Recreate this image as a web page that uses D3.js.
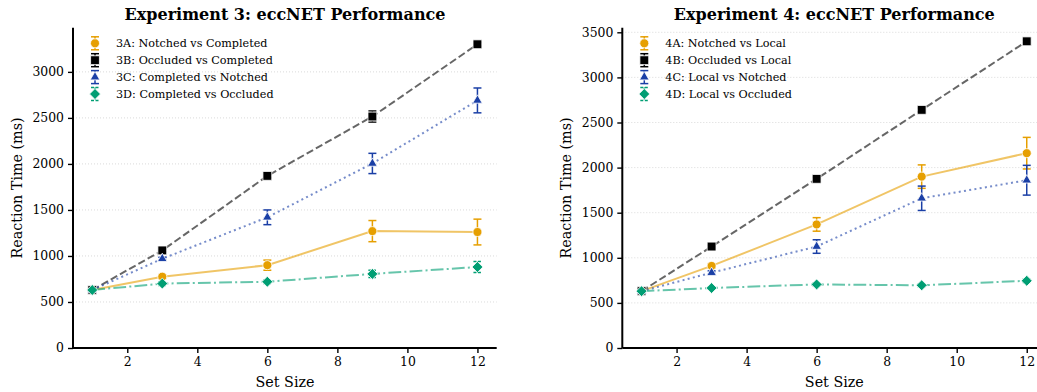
<!DOCTYPE html>
<html>
<head>
<meta charset="utf-8">
<script src="https://cdn.jsdelivr.net/npm/d3@7"></script>
<style>
  body { margin: 0; background: #fff; }
  svg { font-family: "DejaVu Serif", serif; }
</style>
</head>
<body>
<svg id="chart" width="1037" height="392"></svg>
<script>
// values
const setSizes = [1, 3, 6, 9, 12];
const xTicks = [2, 4, 6, 8, 10, 12];

const exp3A = [630, 775, 900, 1270, 1260];
const err3A = [10, 20, 55, 115, 140];
const exp3B = [630, 1060, 1870, 2515, 3300];
const err3B = [10, 15, 20, 60, 20];
const exp3C = [630, 970, 1420, 2005, 2690];
const err3C = [10, 15, 80, 110, 135];
const exp3D = [630, 700, 720, 805, 880];
const err3D = [10, 20, 20, 40, 60];

const exp4A = [630, 910, 1370, 1900, 2160];
const err4A = [10, 25, 75, 130, 175];
const exp4B = [630, 1125, 1875, 2640, 3400];
const err4B = [10, 15, 20, 20, 15];
const exp4C = [630, 835, 1125, 1660, 1860];
const err4C = [10, 20, 75, 135, 165];
const exp4D = [630, 665, 705, 695, 745];
const err4D = [10, 15, 15, 15, 20];

const labels3 = ['3A: Notched vs Completed', '3B: Occluded vs Completed',
  '3C: Completed vs Notched', '3D: Completed vs Occluded'];
const labels4 = ['4A: Notched vs Local', '4B: Occluded vs Local',
  '4C: Local vs Notched', '4D: Local vs Occluded'];

const yTicks3 = [0, 500, 1000, 1500, 2000, 2500, 3000];
const yTicks4 = [0, 500, 1000, 1500, 2000, 2500, 3000, 3500];

// style of each series: color, marker, line dash (diamond = square turned 45deg)
const styles = [
  { color: '#E69F00', marker: d3.symbolCircle, size: 64, rot: 0, dash: null },
  { color: '#000000', marker: d3.symbolSquare, size: 78, rot: 0, dash: '7.4,3.2' },
  { color: '#1A3FA6', marker: d3.symbolTriangle, size: 40, rot: 0, dash: '2,3.3' },
  { color: '#009E73', marker: d3.symbolSquare, size: 60, rot: 45, dash: '12.8,3.2,2,3.2' },
];

const svg = d3.select('#chart');

function drawPanel(opts) {
  const x = d3.scaleLinear().domain([0.45, 12.55]).range([opts.left, opts.left + 423.7]);
  const y = d3.scaleLinear().domain([0, opts.ymax]).range([348, 27.7]);
  const g = svg.append('g');

  // dotted horizontal grid
  g.append('g').selectAll('line')
    .data(opts.yTicks.filter(d => d > 0))
    .join('line')
    .attr('x1', x.range()[0]).attr('x2', x.range()[1])
    .attr('y1', d => y(d)).attr('y2', d => y(d))
    .attr('stroke', '#d0d0d0').attr('stroke-width', 0.8)
    .attr('stroke-dasharray', '1,2');

  // axes
  const xAxis = g.append('g').attr('transform', 'translate(0,348)')
    .call(d3.axisBottom(x).tickValues(xTicks).tickFormat(d3.format('d'))
      .tickSize(5).tickPadding(4));
  const yAxis = g.append('g').attr('transform', `translate(${opts.left},0)`)
    .call(d3.axisLeft(y).tickValues(opts.yTicks).tickFormat(d3.format('d'))
      .tickSize(5).tickPadding(4));
  [xAxis, yAxis].forEach((ax) => {
    ax.select('.domain').attr('stroke', '#000').attr('stroke-width', 2);
    ax.selectAll('.tick line').attr('stroke', '#000').attr('stroke-width', 1.4);
    ax.selectAll('.tick text').attr('fill', '#000')
      .style('font-size', '12.4px').style('font-family', '"DejaVu Serif", serif');
  });
  xAxis.select('.domain').attr('d', `M${x.range()[0]},0H${x.range()[1]}`);
  yAxis.select('.domain').attr('d', `M0,${y.range()[0]}V${y.range()[1]}`);

  // series
  const line = d3.line().x((d, i) => x(setSizes[i])).y(d => y(d));
  opts.series.forEach((vals, k) => {
    const st = styles[k];
    const errs = opts.errors[k];
    const sg = g.append('g');
    sg.append('path').attr('d', line(vals))
      .attr('fill', 'none').attr('stroke', st.color)
      .attr('stroke-opacity', 0.6).attr('stroke-width', 2)
      .attr('stroke-dasharray', st.dash);
    const eb = sg.append('g').attr('stroke', st.color).attr('stroke-width', 1.5)
      .attr('stroke-dasharray', k === 3 ? '3,1.5' : null);
    vals.forEach((v, i) => {
      const cx = x(setSizes[i]);
      const lo = y(v - errs[i]);
      const hi = y(v + errs[i]);
      eb.append('line').attr('x1', cx).attr('x2', cx).attr('y1', lo).attr('y2', hi);
      eb.append('line').attr('x1', cx - 4).attr('x2', cx + 4).attr('y1', lo).attr('y2', lo);
      eb.append('line').attr('x1', cx - 4).attr('x2', cx + 4).attr('y1', hi).attr('y2', hi);
    });
    sg.selectAll('path.mk').data(vals).join('path')
      .attr('class', 'mk')
      .attr('d', d3.symbol().type(st.marker).size(st.size))
      .attr('transform', (d, i) => `translate(${x(setSizes[i])},${y(d)}) rotate(${st.rot})`)
      .attr('fill', st.color).attr('stroke', '#fff').attr('stroke-width', 0.8);
  });

  // legend
  const lx = opts.left + 22;
  opts.labels.forEach((lab, k) => {
    const st = styles[k];
    const ly = 43.3 + k * 16.9;
    const lg = g.append('g');
    const eb = lg.append('g').attr('stroke', st.color).attr('stroke-width', 1.5)
      .attr('stroke-dasharray', k === 3 ? '3,1.5' : null);
    eb.append('line').attr('x1', lx).attr('x2', lx).attr('y1', ly - 6.5).attr('y2', ly + 6.5);
    eb.append('line').attr('x1', lx - 4).attr('x2', lx + 4).attr('y1', ly - 6.5).attr('y2', ly - 6.5);
    eb.append('line').attr('x1', lx - 4).attr('x2', lx + 4).attr('y1', ly + 6.5).attr('y2', ly + 6.5);
    lg.append('path').attr('d', d3.symbol().type(st.marker).size(st.size))
      .attr('transform', `translate(${lx},${ly}) rotate(${st.rot})`)
      .attr('fill', st.color).attr('stroke', '#fff').attr('stroke-width', 0.8);
    lg.append('text').attr('x', lx + 21).attr('y', ly).attr('dy', '0.35em')
      .style('font-size', '11.2px').text(lab);
  });

  // titles
  const cx = opts.left + 212;
  g.append('text').attr('x', cx).attr('y', 20).attr('text-anchor', 'middle')
    .style('font-size', '16px').style('font-weight', 'bold').text(opts.title);
  g.append('text').attr('x', cx).attr('y', 387).attr('text-anchor', 'middle')
    .style('font-size', '14.3px').text('Set Size');
  g.append('text').attr('transform', `translate(${opts.ylabelX},188) rotate(-90)`)
    .attr('text-anchor', 'middle').attr('dy', '0.35em')
    .style('font-size', '14.3px').text('Reaction Time (ms)');
}

drawPanel({
  left: 73, ymax: 3480, yTicks: yTicks3, ylabelX: 17,
  series: [exp3A, exp3B, exp3C, exp3D], errors: [err3A, err3B, err3C, err3D],
  labels: labels3, title: 'Experiment 3: eccNET Performance',
});
drawPanel({
  left: 622.3, ymax: 3551, yTicks: yTicks4, ylabelX: 566,
  series: [exp4A, exp4B, exp4C, exp4D], errors: [err4A, err4B, err4C, err4D],
  labels: labels4, title: 'Experiment 4: eccNET Performance',
});
</script>
</body>
</html>
